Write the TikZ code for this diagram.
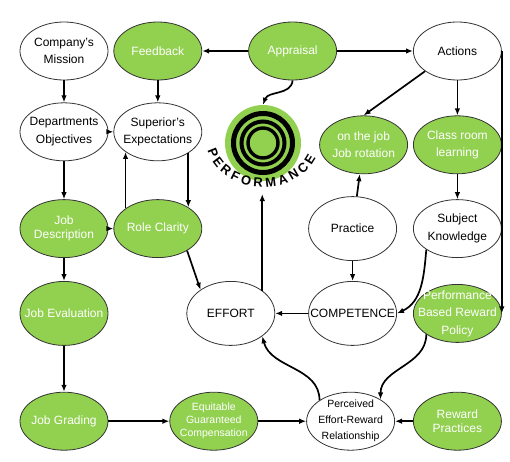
\documentclass[tikz,border=0pt]{standalone}
\usepackage{fontspec}
\setmainfont{Liberation Sans}
\usetikzlibrary{arrows.meta,positioning,shapes.geometric,decorations.text}
\definecolor{leafgreen}{RGB}{146,208,80}

\begin{document}
\begin{tikzpicture}[
  x=1pt,y=1pt,
  oval/.style={ellipse,draw=black!80,line width=0.8pt,minimum width=88pt,minimum height=58pt,
               inner sep=-12pt,align=center,font=\fontsize{12}{17.5}\selectfont},
  greenoval/.style={oval,fill=leafgreen,text=white},
  whiteoval/.style={oval,fill=white,text=black},
  tall/.style={minimum height=64pt},
  tight/.style={font=\fontsize{12}{14.5}\selectfont},
  arrow/.style={-{Latex[length=7pt,width=5.5pt]},line width=1.7pt}
]
\fill[white] (0,0) rectangle (510,-461);
\useasboundingbox (0,0) rectangle (510,-461);
\node[whiteoval] (mission) at (64,-51) {Company's\\Mission};
\node[greenoval,right=5pt of mission] (feedback) {Feedback};
\node[greenoval,right=46pt of feedback] (appraisal) {Appraisal};
\node[whiteoval,right=76pt of appraisal] (actions) {Actions};
\node[whiteoval,below=22pt of mission] (objectives) {Departments\\Objectives};
\node[whiteoval,right=5pt of objectives] (expectations) {Superior's\\Expectations};
\node[greenoval,tight,below=38pt of objectives] (jobdesc) {Job\\Description};
\node[greenoval,right=5pt of jobdesc] (roleclarity) {Role Clarity};
\node[greenoval,tall,below=23pt of jobdesc] (jobeval) {Job Evaluation};
\node[greenoval,below=46pt of jobeval] (jobgrading) {Job Grading};
\node[greenoval,right=61pt of jobgrading,font=\fontsize{10.5}{13}\selectfont] (compensation) {Equitable\\Guaranteed\\Compensation};
\node[whiteoval,right=48pt of compensation,font=\fontsize{10.5}{16}\selectfont] (perceived) {Perceived\\Effort-Reward\\Relationship};
\node[greenoval,tight,right=18pt of perceived] (rewardpractices) {Reward\\Practices};
\node[greenoval,above=49pt of rewardpractices] (rewardpolicy) {Performance\\Based Reward\\Policy};
\node[whiteoval,tall,left=16pt of rewardpolicy] (competence) {COMPETENCE};
\node[whiteoval,tall,left=33pt of competence] (effort) {EFFORT};
\node[whiteoval,tall,above=20pt of competence] (practice) {Practice};
\node[whiteoval,above=26pt of rewardpolicy] (knowledge) {Subject\\Knowledge};
\node[greenoval,above=25pt of knowledge] (classroom) {Class room\\learning};
\node[greenoval,left=5pt of classroom] (onthejob) {on the job\\Job rotation};
% performance target
\node[circle,fill=leafgreen,minimum size=76pt,inner sep=0] (perf) at (263,-143) {};
\foreach \r/\w in {29.5/5,21.5/4,15/3.4}
  \draw[line width=\w pt] (perf.center) circle[radius=\r pt];
\path[decorate,decoration={text along path,text align={fit to path},
      text={|\fontsize{13}{13}\selectfont\bfseries|PERFORMANCE}}]
  (perf.center) ++(0,3) ++(193:57 and 47) arc[start angle=193,end angle=338,x radius=57,y radius=47];
\coordinate (perfbase) at (260,-194);
% connectors
\draw[arrow] (mission) -- (objectives);
\draw[arrow] (feedback) -- (expectations);
\draw[arrow] (appraisal) -- (feedback);
\draw[arrow] (appraisal) -- (actions);
\draw[arrow] (appraisal.south) to[out=-95,in=70] (perf.north);
\draw[arrow] (objectives) -- (expectations);
\draw[arrow] (jobdesc) -- (roleclarity);
\draw[arrow] (objectives) -- (jobdesc);
\draw[arrow] (jobdesc) -- (jobeval);
\draw[arrow] (jobeval) -- (jobgrading);
\draw[arrow] (jobgrading) -- (compensation);
\draw[arrow] (compensation) -- (perceived);
\draw[arrow] (rewardpractices) -- (perceived);
\draw[arrow] (roleclarity.148) -- (expectations.212);
\draw[arrow] (expectations.325) -- (roleclarity.35);
\draw[arrow] (roleclarity.323) -- (effort.142);
\draw[arrow] (effort.36) -- (effort.36 |- perfbase);
\draw[arrow] (competence) -- (effort);
\draw[arrow] (practice) -- (competence);
\draw[arrow] (practice) -- (onthejob);
\draw[arrow] (actions.212) -- (onthejob.north);
\draw[arrow] (actions) -- (classroom);
\draw[arrow] (classroom) -- (knowledge);
\draw[arrow] (actions.east) -- (actions.east |- rewardpolicy.east);
\draw[arrow] (knowledge.214) to[out=-95,in=25] (competence.east);
\draw[arrow] (rewardpolicy.214) to[out=-90,in=90] (perceived.36);
\draw[arrow] (perceived.146) to[out=90,in=-75] (effort.324);
\end{tikzpicture}
\end{document}
